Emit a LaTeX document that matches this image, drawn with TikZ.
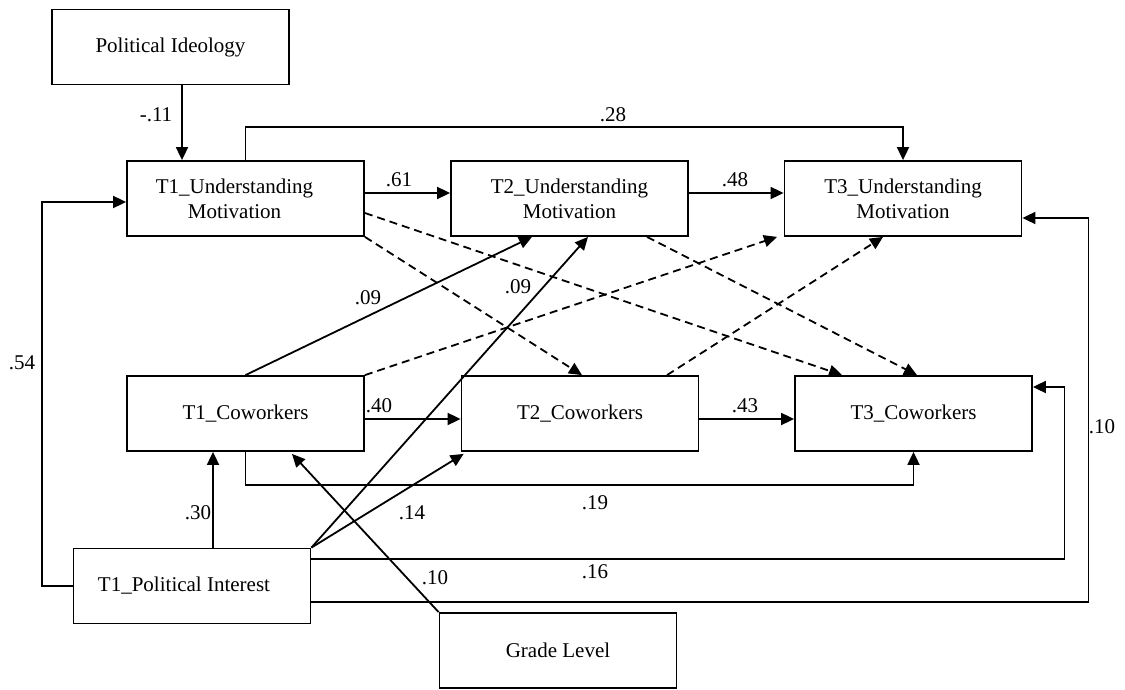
\documentclass[tikz,border=0pt]{standalone}
\usepackage{fontspec}
\setmainfont{Liberation Serif}
\usetikzlibrary{arrows.meta,calc}
\begin{document}
\begin{tikzpicture}[x=1pt,y=-1pt,
  font=\fontsize{21}{25}\selectfont,
  box/.style={draw, line width=1.8pt, rectangle, minimum width=237pt,
    minimum height=75pt, inner sep=0pt, align=center},
  arr/.style={line width=1.8pt, -{Triangle[length=13pt,width=12pt]}},
  dsh/.style={arr, dash pattern=on 8pt off 5pt},
  coef/.style={inner sep=0pt}]
\useasboundingbox (0,0) rectangle (1125,690);

% variables
\node[box] (PI)   at (170.5,47)    {Political Ideology};
\node[box, label={[align=center,xshift=-11pt]center:T1\_Understanding\\Motivation}] (T1UM) at (245.5,198.5) {};
\node[box] (T2UM) at (569.5,198.5) {T2\_Understanding\\Motivation};
\node[box] (T3UM) at (903,198.5)   {T3\_Understanding\\Motivation};
\node[box] (T1CW) at (245.5,413.5) {\raisebox{-3pt}{T1\_Coworkers}};
\node[box] (T2CW) at (580,413.5)   {\raisebox{-3pt}{T2\_Coworkers}};
\node[box] (T3CW) at (913.5,413.5) {\raisebox{-3pt}{T3\_Coworkers}};
\node[box, label={[xshift=-8pt]center:T1\_Political Interest}] (T1PI) at (192,586) {};
\node[box] (GL)   at (558,650.5)   {Grade Level};

% paths between the motivation variables
\coordinate (piout) at ([xshift=11.5pt]PI.south);
\draw[arr] (piout) -- (piout |- T1UM.north);
\draw[arr] (T1UM.north) -- ++(0,-33) -| (T3UM.north);
\draw[arr] ([yshift=5.5pt]T1UM.east) -- ([yshift=5.5pt]T2UM.west);
\draw[arr] ([yshift=5.5pt]T2UM.east) -- ([yshift=5.5pt]T3UM.west);

% paths between the coworker variables
\draw[arr] ([yshift=-5.5pt]T1CW.east) -- ([yshift=-5.5pt]T2CW.west);
\draw[arr] ([yshift=-5.5pt]T2CW.east) -- ([yshift=-5.5pt]T3CW.west);
\draw[arr] (T1CW.south) -- ++(0,33) -| (T3CW.south);

% cross-lagged paths
\draw[dsh] ([yshift=-14.5pt]T1UM.east) -- ([xshift=-71.5pt]T3CW.north);
\draw[dsh] (T1UM.south east) -- ([xshift=2pt]T2CW.north);
\draw[dsh] ([xshift=77.5pt]T2UM.south) -- ([xshift=3.5pt]T3CW.north);
\draw[dsh] (T1CW.north east) -- ([xshift=-126pt]T3UM.south);
\draw[dsh] ([xshift=87pt]T2CW.north) -- ([xshift=-20pt]T3UM.south);
\draw[arr] (T1CW.north) -- ([xshift=-37.5pt]T2UM.south);

% paths from political interest
\draw[arr] ([xshift=21pt]T1PI.north) -- ([xshift=-32.5pt]T1CW.south);
\draw[arr] (T1PI.west) -- ++(-31,0) |- ([yshift=-3.5pt]T1UM.west);
\draw[arr] (T1PI.north east) -- ([xshift=18.5pt]T2UM.south);
\draw[arr] (T1PI.north east) -- ([xshift=3pt,yshift=-2pt]T2CW.south west);
\draw[arr] ([yshift=27pt]T1PI.east) -- ++(753,0) |- ([yshift=26.5pt]T3CW.east);
\draw[arr] ([yshift=-16pt]T1PI.east) -- ++(777,0) |- ([yshift=-19.5pt]T3UM.east);

% path from grade level
\draw[arr] (GL.north west) -- ([xshift=46.5pt,yshift=-2pt]T1CW.south);

% coefficients
\node[coef] (c1)  at (156,115)  {-.11};
\node[coef] (c2)  at (613,115)  {.28};
\node[coef] (c3)  at (399,180)  {.61};
\node[coef] (c4)  at (735,180)  {.48};
\node[coef] (c5)  at (368,298)  {.09};
\node[coef] (c6)  at (518,287)  {.09};
\node[coef] (c7)  at (22,363)   {.54};
\node[coef] (c8)  at (379,406)  {.40};
\node[coef] (c9)  at (745,406)  {.43};
\node[coef] (c10) at (198,513)  {.30};
\node[coef] (c11) at (412,513)  {.14};
\node[coef] (c12) at (595,503)  {.19};
\node[coef] (c13) at (435,578)  {.10};
\node[coef] (c14) at (595,572)  {.16};
\node[coef] (c15) at (1102,427) {.10};
\end{tikzpicture}
\end{document}
